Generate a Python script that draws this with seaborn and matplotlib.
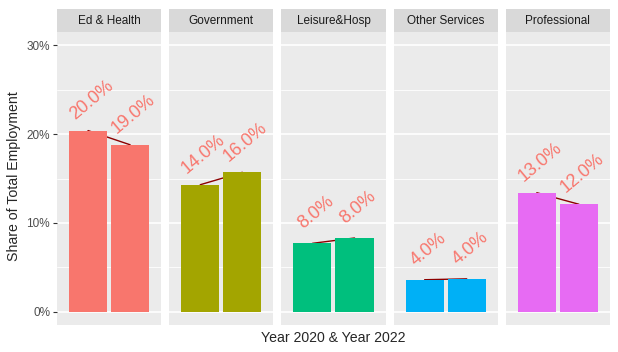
import pandas as pd
import seaborn as sns
import matplotlib.pyplot as plt
from matplotlib.patches import Rectangle

# Daten
sectors = ['Ed & Health', 'Government', 'Leisure&Hosp', 'Other Services', 'Professional']
years = ['2020', '2022']
share_2020 = [20.4, 14.3, 7.7, 3.6, 13.4]
share_2022 = [18.8, 15.7, 8.3, 3.7, 12.1]
label_2020 = ['20.0%', '14.0%', '8.0%', '4.0%', '13.0%']
label_2022 = ['19.0%', '16.0%', '8.0%', '4.0%', '12.0%']
colors = ['#F8766D', '#A3A500', '#00BF7D', '#00B0F6', '#E76BF3']

rows = []
for i, s in enumerate(sectors):
    rows.append({'sector': s, 'year': years[0], 'share': share_2020[i], 'label': label_2020[i]})
    rows.append({'sector': s, 'year': years[1], 'share': share_2022[i], 'label': label_2022[i]})
df = pd.DataFrame(rows)

sns.set_style('white')
plt.rcParams['font.family'] = ['Liberation Sans', 'DejaVu Sans']

fig, axes = plt.subplots(1, 5, figsize=(6.18, 3.52), dpi=100, sharey=True)
fig.subplots_adjust(left=0.0922, right=0.987, top=0.909, bottom=0.0767, wspace=0.077)

for i, (ax, s) in enumerate(zip(axes, sectors)):
    sub = df[df['sector'] == s]
    ax.set_facecolor('#EBEBEB')
    for v in [5, 15, 25]:
        ax.axhline(v, color='white', lw=0.6, zorder=0)
    for v in [0, 10, 20, 30]:
        ax.axhline(v, color='white', lw=1.2, zorder=0)
    sns.barplot(data=sub, x='sector', y='share', hue='year', ax=ax,
                palette=[colors[i], colors[i]], width=0.97, gap=0.095, dodge=True,
                saturation=1, linewidth=0, legend=False, zorder=2)
    bars = ax.patches
    xs = [b.get_x() + b.get_width() / 2 for b in bars]
    hs = [b.get_height() for b in bars]
    # Linie hinter den Balken
    ax.plot(xs, hs, color='#8B0000', lw=1.0, zorder=1)
    for x, h, lab in zip(xs, hs, sub['label']):
        ax.text(x + 0.04, h + 3.45, lab, rotation=40, ha='center', va='center',
                rotation_mode='anchor', color='#F8766D', fontsize=13, zorder=4)
    ax.set_xlim(-0.6, 0.6)
    ax.set_ylim(-1.5, 31.5)
    ax.set_xticks([])
    ax.set_xlabel('')
    ax.set_ylabel('')
    for sp in ax.spines.values():
        sp.set_visible(False)
    # Streifen oben
    ax.add_patch(Rectangle((0, 1.0), 1, 23 / 293, transform=ax.transAxes,
                           facecolor='#D9D9D9', edgecolor='none', clip_on=False))
    ax.text(0.5, 1.0 + 11.5 / 293, s, transform=ax.transAxes, ha='center', va='center',
            fontsize=8.5, color='#1A1A1A')

axes[0].set_yticks([0, 10, 20, 30])
axes[0].set_yticklabels(['0%', '10%', '20%', '30%'], fontsize=8.5, color='#4D4D4D')
axes[0].tick_params(axis='y', length=3, width=0.8, color='#333333', pad=2, left=True)
for ax in axes[1:]:
    ax.tick_params(axis='y', left=False)

fig.text(0.023, 0.5, 'Share of Total Employment', rotation=90, ha='center', va='center', fontsize=10.2)
fig.text(0.54, 0.04, 'Year 2020 & Year 2022', ha='center', va='center', fontsize=10.2)

plt.savefig('out.png', dpi=100)
